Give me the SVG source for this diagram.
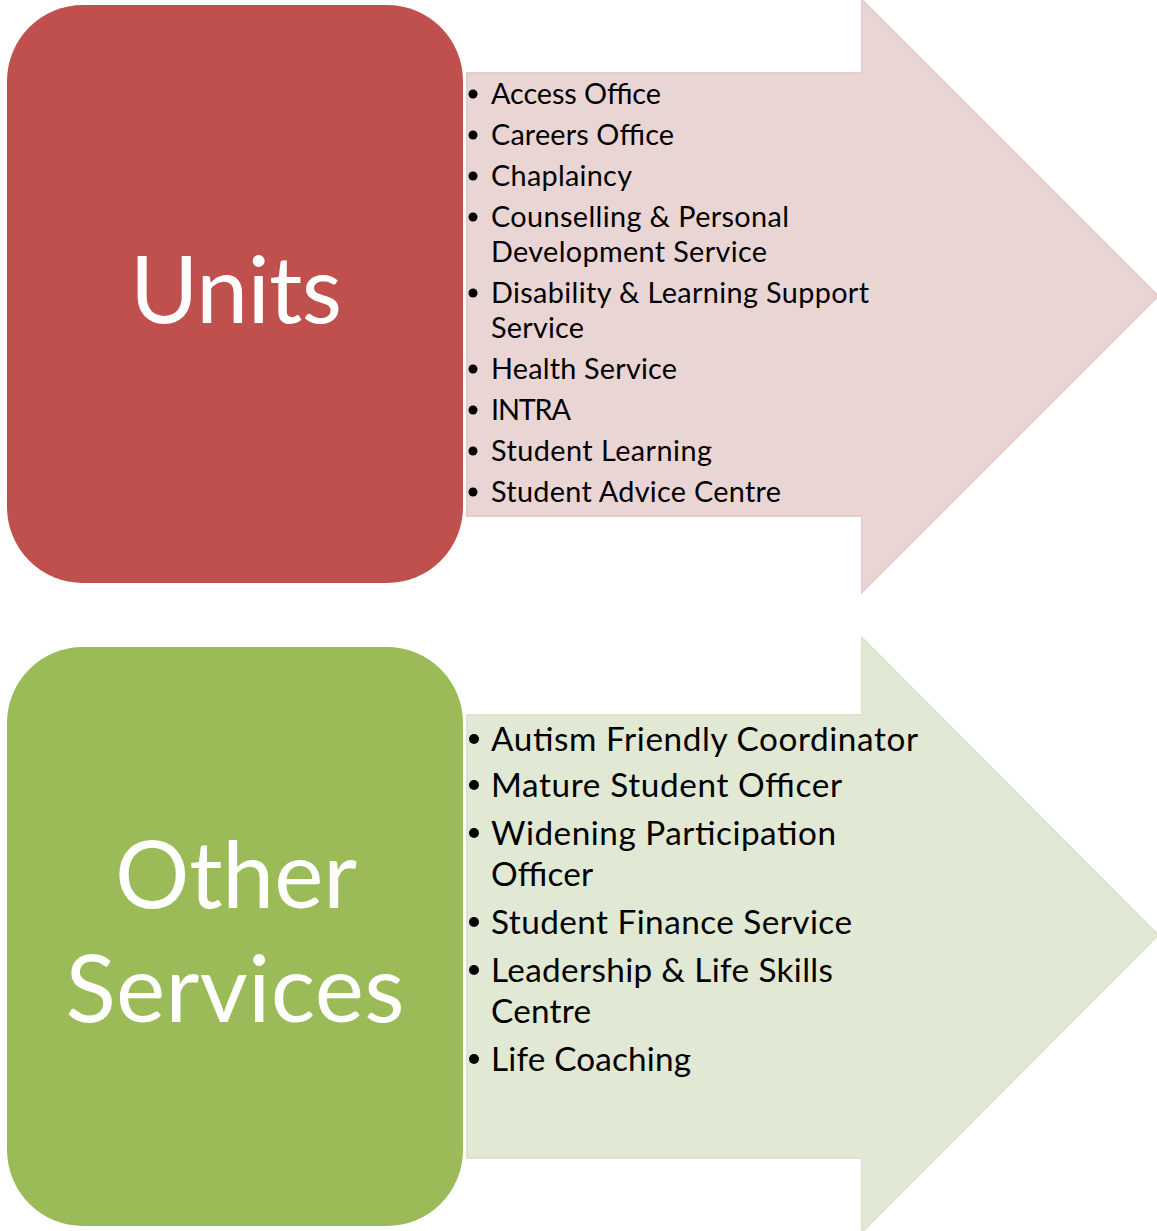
<svg xmlns="http://www.w3.org/2000/svg" width="1157" height="1231" viewBox="0 0 1157 1231">
  <style>
    .title { font-family: Lato, "Open Sans", "Liberation Sans", sans-serif; fill: #ffffff; text-anchor: middle; font-size: 93px; }
    .item-red { font-family: Lato, "Open Sans", "Liberation Sans", sans-serif; fill: #000000; font-size: 28.8px; }
    .item-green { font-family: Lato, "Open Sans", "Liberation Sans", sans-serif; fill: #000000; font-size: 33.3px; }
    .arrow-red { fill: #EAD5D5; stroke: #E6CDCD; stroke-width: 2; }
    .arrow-green { fill: #E1E8D4; stroke: #DCE4CD; stroke-width: 2; }
    .box-red { fill: #C0504D; }
    .box-green { fill: #9BBB59; }
    .dot { fill: #000000; }
  </style>

  <!-- Arrow bands behind the category boxes -->
  <g id="connectors">
    <path class="arrow-red" d="M467 73 H862 V0 L1158 296 L862 592 V516 H467 Z"/>
    <path class="arrow-green" d="M467 715 H862 V638 L1158 935 L862 1232 V1158 H467 Z"/>
  </g>

  <!-- Units -->
  <g id="units">
    <rect class="box-red" x="7" y="5" width="456" height="578" rx="76" ry="76"/>
    <text class="title" x="236" y="323" textLength="212" lengthAdjust="spacing">Units</text>
  </g>

  <g id="units-list">
    <circle class="dot" cx="473" cy="94" r="4.5"/>
    <text class="item-red" x="491" y="104" textLength="170" lengthAdjust="spacing">Access Office</text>
    <circle class="dot" cx="473" cy="135" r="4.5"/>
    <text class="item-red" x="491" y="145" textLength="183" lengthAdjust="spacing">Careers Office</text>
    <circle class="dot" cx="473" cy="176" r="4.5"/>
    <text class="item-red" x="491" y="186" textLength="141" lengthAdjust="spacing">Chaplaincy</text>
    <circle class="dot" cx="473" cy="217" r="4.5"/>
    <text class="item-red" x="491" y="227" textLength="298" lengthAdjust="spacing">Counselling &amp; Personal</text>
    <text class="item-red" x="491" y="262" textLength="276" lengthAdjust="spacing">Development Service</text>
    <circle class="dot" cx="473" cy="293" r="4.5"/>
    <text class="item-red" x="491" y="303" textLength="378" lengthAdjust="spacing">Disability &amp; Learning Support</text>
    <text class="item-red" x="491" y="338" textLength="93" lengthAdjust="spacing">Service</text>
    <circle class="dot" cx="473" cy="369" r="4.5"/>
    <text class="item-red" x="491" y="379" textLength="186" lengthAdjust="spacing">Health Service</text>
    <circle class="dot" cx="473" cy="410" r="4.5"/>
    <text class="item-red" x="491" y="420" textLength="80" lengthAdjust="spacing">INTRA</text>
    <circle class="dot" cx="473" cy="451" r="4.5"/>
    <text class="item-red" x="491" y="461" textLength="221" lengthAdjust="spacing">Student Learning</text>
    <circle class="dot" cx="473" cy="492" r="4.5"/>
    <text class="item-red" x="491" y="502" textLength="290" lengthAdjust="spacing">Student Advice Centre</text>
  </g>

  <!-- Other Services -->
  <g id="other-services">
    <rect class="box-green" x="7" y="647" width="456" height="579" rx="76" ry="76"/>
    <text class="title" x="236" y="908" textLength="242" lengthAdjust="spacing">Other</text>
    <text class="title" x="235" y="1022" textLength="339" lengthAdjust="spacing">Services</text>
  </g>

  <g id="other-services-list">
    <circle class="dot" cx="474" cy="739" r="5"/>
    <text class="item-green" x="491" y="751" textLength="427" lengthAdjust="spacing">Autism Friendly Coordinator</text>
    <circle class="dot" cx="474" cy="785" r="5"/>
    <text class="item-green" x="491" y="797" textLength="351" lengthAdjust="spacing">Mature Student Officer</text>
    <circle class="dot" cx="474" cy="833" r="5"/>
    <text class="item-green" x="491" y="845" textLength="345" lengthAdjust="spacing">Widening Participation</text>
    <text class="item-green" x="491" y="886" textLength="102" lengthAdjust="spacing">Officer</text>
    <circle class="dot" cx="474" cy="922" r="5"/>
    <text class="item-green" x="491" y="934" textLength="361" lengthAdjust="spacing">Student Finance Service</text>
    <circle class="dot" cx="474" cy="970" r="5"/>
    <text class="item-green" x="491" y="982" textLength="342" lengthAdjust="spacing">Leadership &amp; Life Skills</text>
    <text class="item-green" x="491" y="1023" textLength="100" lengthAdjust="spacing">Centre</text>
    <circle class="dot" cx="474" cy="1059" r="5"/>
    <text class="item-green" x="491" y="1071" textLength="200" lengthAdjust="spacing">Life Coaching</text>
  </g>
</svg>
